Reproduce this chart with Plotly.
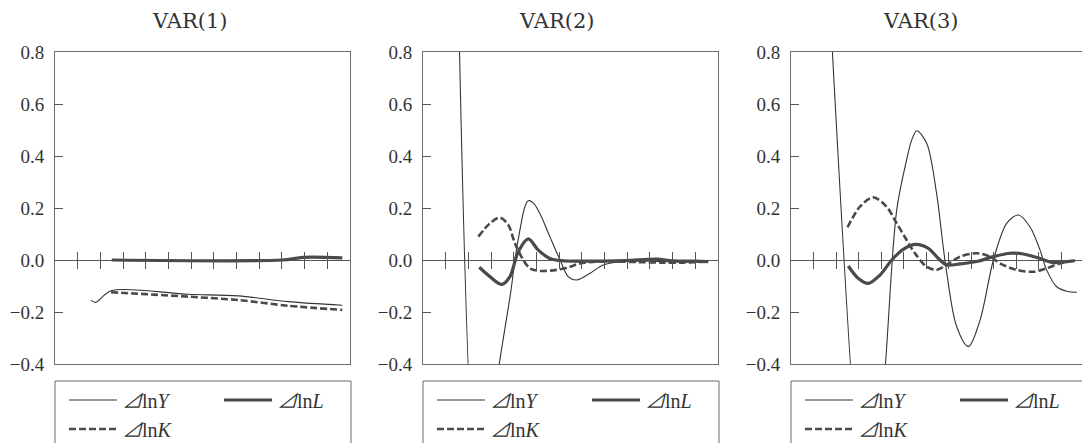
import plotly.graph_objects as go

# ---------------- data ----------------
panel_titles = ["VAR(1)", "VAR(2)", "VAR(3)"]
series_names = ["<i>⊿</i>ln<i>Y</i>", "<i>⊿</i>ln<i>L</i>", "<i>⊿</i>ln<i>K</i>"]
zero_ticks = [1, 2, 3, 4, 5, 6, 7, 8, 9, 10, 11, 12]
y_ticks = [-0.4, -0.2, 0.0, 0.2, 0.4, 0.6, 0.8]

# VAR(1)
v1_x_Y = [1.59, 1.79, 2.47, 5.87, 8.08, 10.28, 12.66]
v1_Y = [-0.154, -0.163, -0.118, -0.132, -0.138, -0.160, -0.174]
v1_x_L = [2.5, 10.0, 10.94, 12.66]
v1_L = [0.0, 0.0, 0.010, 0.008]
v1_x_K = [2.47, 5.87, 8.08, 10.28, 12.66]
v1_K = [-0.124, -0.141, -0.154, -0.176, -0.192]

# VAR(2)
v2_x_Y = [1.5, 2.45, 3.36, 3.88, 4.05, 4.27, 4.49, 4.64, 4.86, 5.15, 5.59, 6.04, 6.4,
          6.77, 7.36, 7.94, 8.6, 9.5, 10.5, 11.5, 12.57]
v2_Y = [1.27, -0.95, -0.40, -0.115, 0.0, 0.115, 0.205, 0.228, 0.22, 0.179, 0.09, 0.0, -0.064,
        -0.077, -0.051, -0.019, -0.008, -0.004, -0.006, -0.008, -0.006]
v2_x_L = [2.48, 2.95, 3.47, 3.83, 4.2, 4.64, 5.08, 5.59, 6.18, 7.0, 8.0, 9.0, 10.3, 11.0, 12.0, 12.57]
v2_L = [-0.028, -0.064, -0.094, -0.064, 0.032, 0.081, 0.038, 0.006, -0.003, -0.004, -0.004,
        -0.002, 0.003, -0.003, -0.004, -0.006]
v2_x_K = [2.44, 2.95, 3.39, 3.76, 4.05, 4.42, 4.71, 5.15, 5.89, 6.48, 6.92, 7.65, 8.5, 9.5,
          10.5, 11.5, 12.57]
v2_K = [0.09, 0.141, 0.163, 0.135, 0.064, 0.0, -0.032, -0.042, -0.038, -0.026, -0.013, -0.006,
        -0.006, -0.008, -0.010, -0.010, -0.006]

# VAR(3)
v3_x_Y = [1.5, 3.5, 4.21, 4.69, 5.13, 5.35, 5.58, 6.02, 6.46, 6.83, 7.35, 7.87, 8.39, 8.98,
          9.57, 10.09, 10.6, 11.05, 11.34, 11.79, 12.23, 12.68]
v3_Y = [1.355, -1.23, -0.378, 0.192, 0.385, 0.46, 0.497, 0.449, 0.256, 0.0, -0.256, -0.333,
        -0.231, 0.0, 0.141, 0.173, 0.128, 0.038, -0.038, -0.103, -0.12, -0.124]
v3_x_L = [2.54, 2.99, 3.43, 3.95, 4.47, 4.98, 5.5, 6.09, 6.54, 6.91, 7.5, 8.24, 8.98, 9.72,
          10.31, 11.05, 11.64, 12.23, 12.6]
v3_L = [-0.023, -0.071, -0.09, -0.058, 0.0, 0.041, 0.06, 0.045, 0.006, -0.019, -0.015, -0.006,
        0.013, 0.026, 0.023, 0.006, -0.01, -0.006, -0.003]
v3_x_K = [2.51, 3.06, 3.65, 4.24, 4.69, 5.13, 5.5, 6.02, 6.46, 6.91, 7.5, 8.24, 8.83, 9.27,
          10.01, 10.75, 11.34, 11.93, 12.52]
v3_K = [0.126, 0.205, 0.241, 0.205, 0.141, 0.077, 0.026, -0.026, -0.038, -0.019, 0.013, 0.026,
        0.013, -0.013, -0.038, -0.045, -0.032, -0.013, -0.003]

panels = [
    [(v1_x_Y, v1_Y), (v1_x_L, v1_L), (v1_x_K, v1_K)],
    [(v2_x_Y, v2_Y), (v2_x_L, v2_L), (v2_x_K, v2_K)],
    [(v3_x_Y, v3_Y), (v3_x_L, v3_L), (v3_x_K, v3_K)],
]

# ---------------- layout ----------------
# The page body has an 8px margin, so the figure is made 8px smaller and all
# positions (measured in page pixels) are shifted by that offset.
OFF = 8
W, H = 1090 - OFF, 443 - OFF


def fx(px):
    return (px - OFF) / W


def fy(py):
    return 1 - (py - OFF) / H


x_px = [(55, 350), (423, 718), (791, 1084)]
y_top, y_bot = 52, 364
ydom = [fy(y_bot), fy(y_top)]
XR = [0, 13]
YR = [-0.4, 0.8]
zero_pos = ydom[0] + (0 - YR[0]) / (YR[1] - YR[0]) * (ydom[1] - ydom[0])

SERIF = "Liberation Serif, DejaVu Serif, serif"
TITLE_FONT = "DejaVu Serif, Liberation Serif, serif"
LEG_FONT = "Liberation Serif, Noto Sans CJK JP, DejaVu Serif, serif"
TXT = "#333333"
AX = "#6a6a6a"

styles = [
    dict(width=1.1, color="#333333", dash="solid"),
    dict(width=3.2, color="#4a4a4a", dash="solid"),
    dict(width=2.6, color="#4a4a4a", dash="7px,3px"),
]

fig = go.Figure()
legend_ids = []
for p, series in enumerate(panels):
    xa = "x" if p == 0 else f"x{p + 1}"
    ya = "y" if p == 0 else f"y{p + 1}"
    for s, (xs, ys) in enumerate(series):
        lid = f"legend{p * 3 + s + 1}" if (p * 3 + s) > 0 else "legend"
        legend_ids.append((p, s, lid))
        fig.add_trace(go.Scatter(
            x=xs, y=ys, mode="lines", name=series_names[s],
            line=dict(shape="spline", smoothing=0.9, **styles[s]),
            xaxis=xa, yaxis=ya, legend=lid, hoverinfo="skip",
        ))
    # empty traces so that the zero-line tick axes are drawn
    for k in range(2):
        n = 4 + p * 2 + k
        fig.add_trace(go.Scatter(x=[None], y=[None], mode="lines", showlegend=False,
                                 xaxis=f"x{n}", yaxis=ya, hoverinfo="skip"))

layout = dict(
    width=W, height=H,
    margin=dict(l=0, r=0, t=0, b=0, autoexpand=False),
    paper_bgcolor="white", plot_bgcolor="white",
    font=dict(family=SERIF, color=TXT, size=19),
    showlegend=True,
    annotations=[], shapes=[],
)

for p in range(3):
    sfx = "" if p == 0 else str(p + 1)
    xd = [fx(x_px[p][0]), fx(x_px[p][1])]
    layout["xaxis" + sfx] = dict(
        domain=xd, range=XR, anchor="y" + sfx, showticklabels=False, ticks="",
        showgrid=False, zeroline=False, showline=True, mirror=True,
        linecolor=AX, linewidth=1,
    )
    layout["yaxis" + sfx] = dict(
        domain=ydom, range=YR, anchor="x" + sfx, tickvals=y_ticks, tickformat=".1f",
        ticks="inside", ticklen=8, tickwidth=1, tickcolor="#555555", showgrid=False,
        zeroline=True, zerolinecolor="#555555", zerolinewidth=1,
        showline=True, mirror=True, linecolor=AX, linewidth=1,
        ticklabelstandoff=6,
        tickfont=dict(family=SERIF, size=19, color=TXT),
    )
    for k, side in enumerate(["bottom", "top"]):
        n = 4 + p * 2 + k
        layout[f"xaxis{n}"] = dict(
            overlaying="x" + sfx, anchor="free", position=zero_pos, side=side,
            range=XR, tickvals=zero_ticks, ticks="outside", ticklen=8, tickwidth=1,
            tickcolor="#555555", showticklabels=False, showgrid=False,
            zeroline=False, showline=False,
        )
    centers = [189, 556, 920]
    layout["annotations"].append(dict(
        text=panel_titles[p], x=fx(centers[p]), y=fy(21), xref="paper", yref="paper",
        xanchor="center", yanchor="middle", showarrow=False,
        font=dict(family=TITLE_FONT, size=21, color=TXT),
    ))
    layout["shapes"].append(dict(
        type="rect", xref="paper", yref="paper",
        x0=fx(x_px[p][0]), x1=fx(x_px[p][1] + 1), y0=-0.2, y1=fy(381),
        line=dict(color=AX, width=1), fillcolor="rgba(0,0,0,0)",
    ))

item_offsets = [(14, 400), (169, 400), (14, 429)]
for p, s, lid in legend_ids:
    dx, cy = item_offsets[s]
    layout[lid] = dict(
        x=fx(x_px[p][0] + dx - 5), y=fy(cy), xanchor="left", yanchor="middle",
        orientation="v", bgcolor="rgba(0,0,0,0)", borderwidth=0,
        itemwidth=48, font=dict(family=LEG_FONT, size=20, color=TXT),
        tracegroupgap=0,
    )

fig.update_layout(**layout)
fig.write_html("out.html")
